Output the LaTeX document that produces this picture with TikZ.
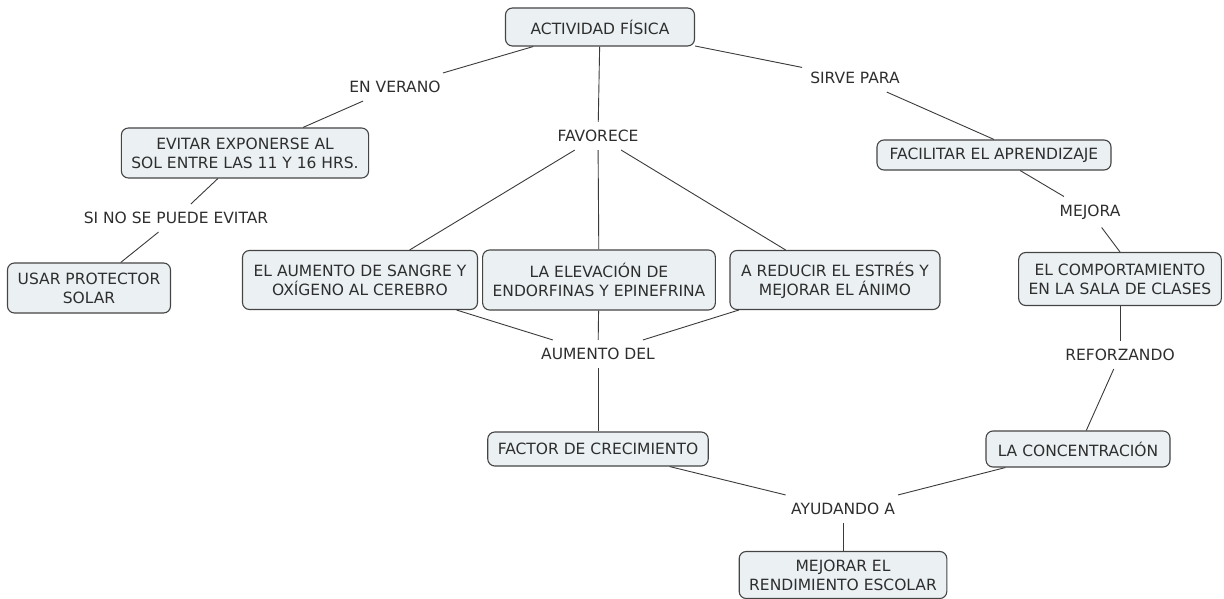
\documentclass[tikz,border=0pt]{standalone}
\usepackage{fontspec}
\setmainfont{DejaVu Sans}
\usepackage{xcolor}
\definecolor{boxfill}{HTML}{EBF1F3}
\definecolor{boxline}{HTML}{444444}
\definecolor{linkline}{HTML}{3A3A3A}
\tikzset{
  concept/.style={draw=boxline, line width=1.1pt, fill=boxfill, rounded corners=7pt,
    align=center, inner xsep=10pt, inner ysep=6pt, font=\fontsize{15.5}{19}\selectfont, text=black!82},
  phrase/.style={inner sep=8pt, font=\fontsize{15.5}{19}\selectfont, text=black!82},
  link/.style={draw=linkline, line width=0.9pt}
}
\begin{document}
\begin{tikzpicture}[x=1pt,y=-1pt]
  \useasboundingbox (0,0) rectangle (1224,599);
  % concepts
  \path (600,27) node(act)[concept, minimum width=189pt, minimum height=38pt]{ACTIVIDAD FÍSICA}
    (245,153) node(evit)[concept, minimum width=243pt, minimum height=50pt]{EVITAR EXPONERSE AL\\SOL ENTRE LAS 11 Y 16 HRS.}
    (89,288) node(usar)[concept, minimum width=163pt, minimum height=50pt]{USAR PROTECTOR\\SOLAR}
    (360,280) node(sang)[concept, minimum width=235pt, minimum height=59pt]{EL AUMENTO DE SANGRE Y\\OXÍGENO AL CEREBRO}
    (599,280) node(endo)[concept, minimum width=232pt, minimum height=60pt]{LA ELEVACIÓN DE\\ENDORFINAS Y EPINEFRINA}
    (835,280) node(estr)[concept, minimum width=210pt, minimum height=59pt]{A REDUCIR EL ESTRÉS Y\\MEJORAR EL ÁNIMO}
    (994,155) node(apre)[concept, minimum width=234pt, minimum height=30pt]{FACILITAR EL APRENDIZAJE}
    (1120,279) node(comp)[concept, minimum width=202pt, minimum height=53pt]{EL COMPORTAMIENTO\\EN LA SALA DE CLASES}
    (598,449) node(fact)[concept, minimum width=218pt, minimum height=34pt]{FACTOR DE CRECIMIENTO}
    (1078,449) node(conc)[concept, minimum width=184pt, minimum height=36pt]{LA CONCENTRACIÓN}
    (843,575) node(rend)[concept, minimum width=201pt, minimum height=47pt]{MEJORAR EL\\RENDIMIENTO ESCOLAR};
  % linking phrases
  \path (395,87) node(ver)[phrase]{EN VERANO}
    (598,136) node(fav)[phrase]{FAVORECE}
    (855,78) node(sirv)[phrase]{SIRVE PARA}
    (176,218) node(sino)[phrase]{SI NO SE PUEDE EVITAR}
    (1090,212) node(mejo)[phrase]{MEJORA}
    (598,354) node(aum)[phrase]{AUMENTO DEL}
    (1120,355) node(refo)[phrase]{REFORZANDO}
    (843,509) node(ayud)[phrase]{AYUDANDO A};
  % connectors
  \draw[link] (act) -- (ver);
  \draw[link] (ver) -- (evit);
  \draw[link] (evit) -- (sino);
  \draw[link] (sino) -- (usar);
  \draw[link] (act) -- (fav);
  \draw[link] (fav) -- (sang);
  \draw[link] (fav) -- (endo);
  \draw[link] (fav) -- (estr);
  \draw[link] (sang) -- (aum);
  \draw[link] (endo) -- (aum);
  \draw[link] (estr) -- (aum);
  \draw[link] (aum) -- (fact);
  \draw[link] (act) -- (sirv);
  \draw[link] (sirv) -- (apre.north);
  \draw[link] (apre) -- (mejo);
  \draw[link] (mejo) -- (comp.north);
  \draw[link] (comp) -- (refo);
  \draw[link] (refo) -- (conc);
  \draw[link] (fact) -- (ayud);
  \draw[link] (conc) -- (ayud);
  \draw[link] (ayud) -- (rend);
\end{tikzpicture}
\end{document}
